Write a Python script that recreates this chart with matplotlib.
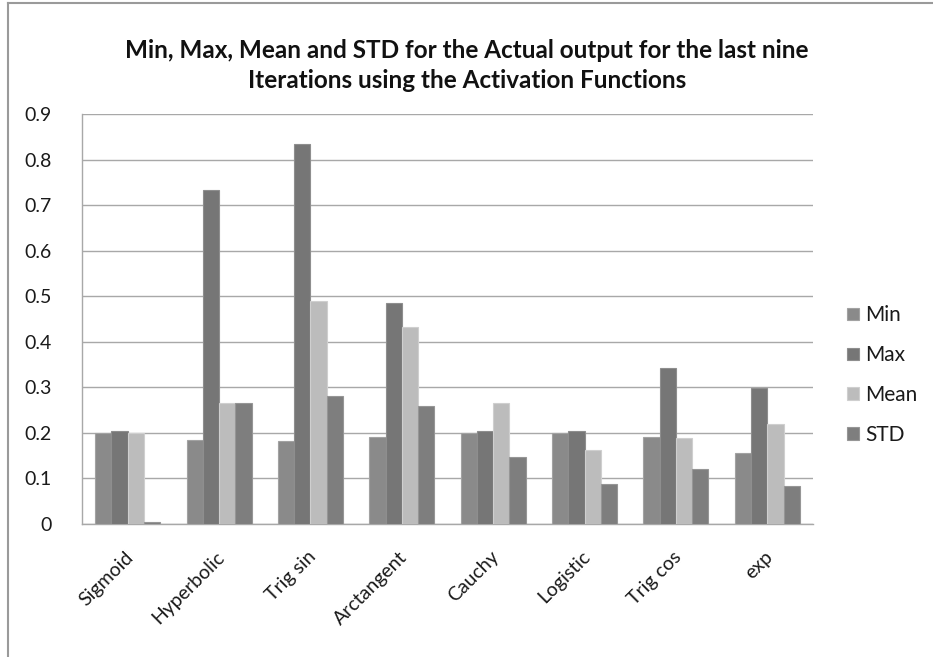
import numpy as np
import matplotlib
matplotlib.use("Agg")
import matplotlib.pyplot as plt
from matplotlib.lines import Line2D
from matplotlib.transforms import ScaledTranslation

plt.rcParams['font.family'] = ['Lato', 'DejaVu Sans']

functions = ["Sigmoid", "Hyperbolic", "Trig sin", "Arctangent",
             "Cauchy", "Logistic", "Trig cos", "exp"]
min_vals = [0.200, 0.184, 0.182, 0.191, 0.200, 0.200, 0.191, 0.156]
max_vals = [0.203, 0.732, 0.834, 0.485, 0.203, 0.203, 0.341, 0.298]
mean_vals = [0.200, 0.265, 0.490, 0.433, 0.265, 0.161, 0.188, 0.218]
std_vals = [0.004, 0.265, 0.280, 0.258, 0.147, 0.087, 0.121, 0.083]
series_names = ["Min", "Max", "Mean", "STD"]
y_ticks = [0, 0.1, 0.2, 0.3, 0.4, 0.5, 0.6, 0.7, 0.8, 0.9]

face_colors = ["#8a8a8a", "#767676", "#bcbcbc", "#7e7e7e"]
edge_colors = ["#a2a2a2", "#8e8e8e", "#cfcfcf", "#969696"]

fig = plt.figure(figsize=(9.33, 6.57), dpi=100)
ax = fig.add_axes([82 / 933, 1 - 523.7 / 657, (813 - 82) / 933, (523.7 - 114) / 657])

x = np.arange(len(functions))
bar_w = 0.178
series = [min_vals, max_vals, mean_vals, std_vals]
handles = []
for i, vals in enumerate(series):
    offs = (i - 1.5) * bar_w
    b = ax.bar(x + offs, vals, width=bar_w, color=face_colors[i],
               edgecolor=edge_colors[i], linewidth=0.8, zorder=3,
               label=series_names[i])
    handles.append(b)

ax.set_xlim(-0.5, len(functions) - 0.5)
ax.set_ylim(0, 0.9)
ax.set_yticks(y_ticks)
ax.set_yticklabels([f"{t:g}" for t in y_ticks])
ax.yaxis.grid(True, color="#a8a8a8", linewidth=1.0, zorder=0)
ax.set_axisbelow(True)
for s in ["top", "right"]:
    ax.spines[s].set_visible(False)
for s in ["left", "bottom"]:
    ax.spines[s].set_color("#a8a8a8")
    ax.spines[s].set_linewidth(1.0)
ax.tick_params(axis="y", length=0, pad=22, labelsize=14, labelcolor="#1a1a1a")
ax.tick_params(axis="x", length=0, pad=22, labelsize=14, labelcolor="#1a1a1a")

ax.set_xticks(x)
ax.set_xticklabels(functions, rotation=45, ha="right", va="center",
                   rotation_mode="anchor")
shift = ScaledTranslation(3 / 100, 0, fig.dpi_scale_trans)
for lbl in ax.get_xticklabels():
    lbl.set_transform(lbl.get_transform() + shift)

fig.text(467 / 933, 1 - 51 / 657,
         "Min, Max, Mean and STD for the Actual output for the last nine",
         ha="center", va="center", fontsize=17.5, fontweight="bold", color="#111111")
fig.text(467 / 933, 1 - 80 / 657,
         "Iterations using the Activation Functions",
         ha="center", va="center", fontsize=17.5, fontweight="bold", color="#111111")

leg = fig.legend(handles=handles, labels=series_names,
                 loc="upper left", bbox_to_anchor=(837 / 933, 1 - 295 / 657),
                 frameon=False, fontsize=15, handlelength=0.55, handleheight=0.55,
                 handletextpad=0.3, labelspacing=0.95, borderpad=0)
for t in leg.get_texts():
    t.set_color("#1a1a1a")

# outer chart frame
fig.add_artist(Line2D([8 / 933, 8 / 933], [0, 1 - 3 / 657], transform=fig.transFigure,
                      color="#9a9a9a", linewidth=1.5))
fig.add_artist(Line2D([8 / 933, 1], [1 - 3 / 657, 1 - 3 / 657], transform=fig.transFigure,
                      color="#9a9a9a", linewidth=1.5))

fig.savefig("out.png", dpi=100, facecolor="white")
